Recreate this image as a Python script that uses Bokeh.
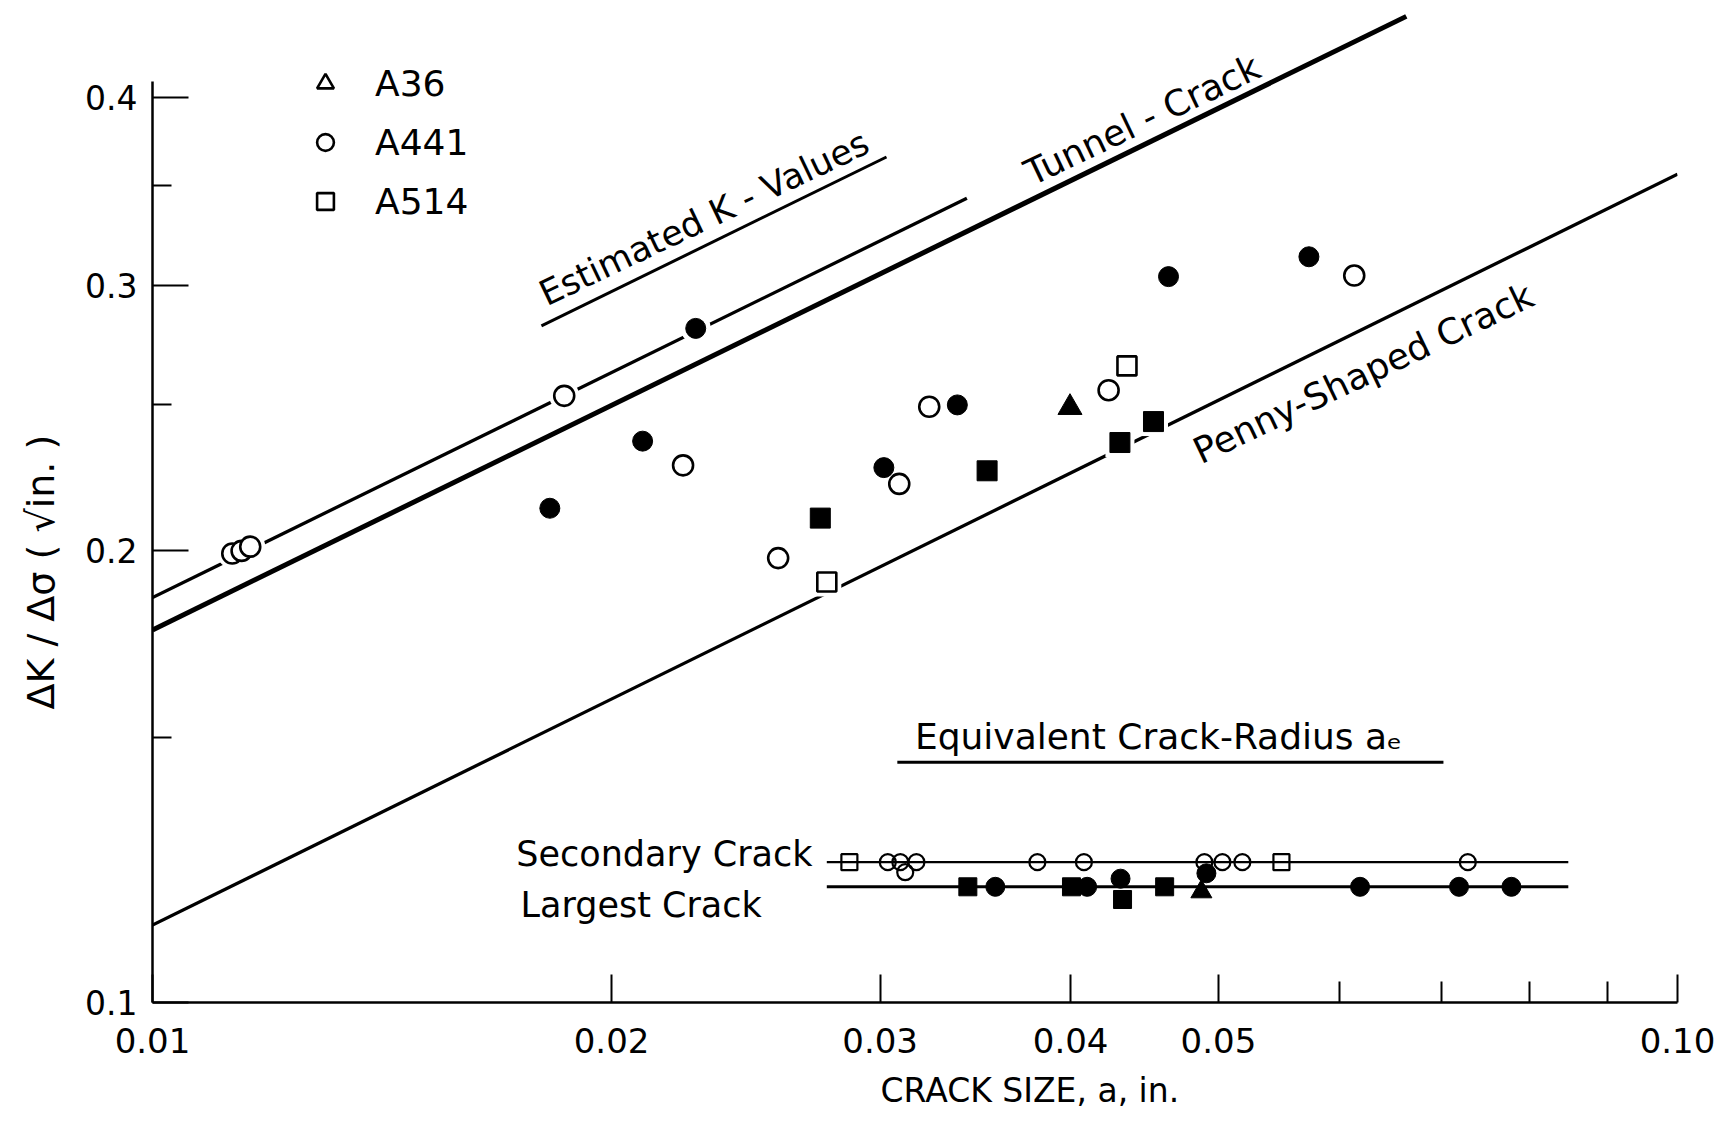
import math
from bokeh.plotting import figure
from bokeh.models import FixedTicker, Label, Legend, LegendItem, PrintfTickFormatter, Title
from bokeh.embed import file_html
from bokeh.resources import INLINE

FONT = "DejaVu Sans"

# ---------------- data ----------------
# reference curves, end points (crack size a in in., dK/dsigma in sqrt(in.))
estk_x = [0.01, 0.0342]
estk_y = [0.186, 0.343]
tunnel_x = [0.01, 0.0664]
tunnel_y = [0.177, 0.4533]
penny_x = [0.01, 0.10]
penny_y = [0.1126, 0.3559]

# measured K-values, open symbols
a441_open_x = [0.01128, 0.01144, 0.01159, 0.01862, 0.02228, 0.02572, 0.03088, 0.03231, 0.04236, 0.06138]
a441_open_y = [0.1990, 0.1998, 0.2011, 0.2534, 0.2278, 0.1976, 0.2214, 0.2492, 0.2556, 0.3047]
a514_open_x = [0.02768, 0.04355]
a514_open_y = [0.1905, 0.2653]

# measured K-values, solid symbols
a441_solid_x = [0.01822, 0.02096, 0.02271, 0.03017, 0.03371, 0.04637, 0.05732]
a441_solid_y = [0.2133, 0.2364, 0.2810, 0.2270, 0.2499, 0.3042, 0.3136]
a514_solid_x = [0.02741, 0.03526, 0.04309, 0.04533]
a514_solid_y = [0.2101, 0.2259, 0.2359, 0.2436]
a36_solid_x = [0.03996]
a36_solid_y = [0.2489]

# equivalent crack-radius strip
strip_x = [0.02768, 0.0848]
secondary_y = 0.1240
largest_y = 0.1194

sec_sq_x = [0.02864, 0.05499]
sec_sq_y = [0.1240, 0.1240]
sec_ci_x = [0.03035, 0.03093, 0.03116, 0.03169, 0.03804, 0.04081, 0.04895, 0.05030, 0.05184, 0.07286]
sec_ci_y = [0.1240, 0.1240, 0.1221, 0.1240, 0.1240, 0.1240, 0.1240, 0.1240, 0.1240, 0.1240]

lar_ci_x = [0.03570, 0.04101, 0.04313, 0.04910, 0.06192, 0.07190, 0.07782]
lar_ci_y = [0.1194, 0.1194, 0.1209, 0.1219, 0.1194, 0.1194, 0.1194]
lar_sq_x = [0.03425, 0.04005, 0.04326, 0.04610]
lar_sq_y = [0.1194, 0.1194, 0.1171, 0.1194]
lar_tr_x = [0.04873]
lar_tr_y = [0.1185]

legend_labels = ["A36", "A441", "A514"]

x_ticks = [0.01, 0.02, 0.03, 0.04, 0.05, 0.10]
x_minor = [0.06, 0.07, 0.08, 0.09]
y_ticks = [0.1, 0.2, 0.3, 0.4]
y_minor = [0.15, 0.25, 0.35]

# ---------------- figure ----------------
p = figure(x_axis_type="log", y_axis_type="log",
           x_range=(0.01, 0.1), y_range=(0.1, 0.456),
           frame_width=1525, frame_height=990,
           min_border_left=151, min_border_right=40,
           min_border_top=12, min_border_bottom=5,
           output_backend="svg", toolbar_location=None)
p.xgrid.visible = False
p.ygrid.visible = False
p.outline_line_color = None
p.background_fill_color = "white"
p.border_fill_color = "white"

xa = p.xaxis[0]
ya = p.yaxis[0]
xa.ticker = FixedTicker(ticks=x_ticks, minor_ticks=x_minor)
ya.ticker = FixedTicker(ticks=y_ticks, minor_ticks=y_minor)
xa.formatter = PrintfTickFormatter(format="%.2f")
ya.formatter = PrintfTickFormatter(format="%.1f")
xa.bounds = (0.01, 0.1)
ya.bounds = (0.1, 0.41)
for ax in (xa, ya):
    ax.axis_line_color = "black"
    ax.axis_line_width = 2.5
    ax.major_tick_line_color = "black"
    ax.minor_tick_line_color = "black"
    ax.major_tick_line_width = 2
    ax.minor_tick_line_width = 2
    ax.major_tick_out = 0
    ax.minor_tick_out = 0
    ax.major_label_text_font = FONT
    ax.major_label_text_color = "black"
xa.major_tick_in = 28
xa.minor_tick_in = 21
xa.major_label_standoff = 25
xa.major_label_text_font_size = "34px"
ya.major_tick_in = 36
ya.minor_tick_in = 19
ya.major_label_standoff = 15
ya.major_label_text_font_size = "33px"

# axis titles
p.add_layout(Title(text="CRACK SIZE, a, in.", align="left", offset=728,
                   vertical_align="bottom", standoff=26, text_font=FONT,
                   text_font_size="33px", text_font_style="normal",
                   text_color="black"), "below")
p.add_layout(Title(text="\u0394K / \u0394\u03c3 ( \u221ain. )", align="left", offset=293,
                   vertical_align="top", standoff=36, text_font=FONT,
                   text_font_size="38px", text_font_style="normal",
                   text_color="black"), "left")

# reference lines
p.line(estk_x, estk_y, line_width=3.3, line_color="black")
p.line(tunnel_x, tunnel_y, line_width=5, line_color="black")
p.line(penny_x, penny_y, line_width=3.3, line_color="black")

# white halos so the lines break around the symbols
p.scatter(a441_open_x + a441_solid_x, a441_open_y + a441_solid_y, marker="circle",
          size=30, fill_color="white", line_color=None)
p.scatter(a514_open_x + a514_solid_x, a514_open_y + a514_solid_y, marker="square",
          size=29, fill_color="white", line_color=None)
p.scatter(a36_solid_x, a36_solid_y, marker="triangle", size=33, fill_color="white", line_color=None)

# symbols
r_a441_open = p.scatter(a441_open_x, a441_open_y, marker="circle", size=20,
                        fill_color="white", line_color="black", line_width=2.6)
p.scatter(a441_solid_x, a441_solid_y, marker="circle", size=20,
          fill_color="black", line_color="black", line_width=1)
r_a514_open = p.scatter(a514_open_x, a514_open_y, marker="square", size=19,
                        fill_color="white", line_color="black", line_width=2.6)
p.scatter(a514_solid_x, a514_solid_y, marker="square", size=20,
          fill_color="black", line_color="black", line_width=1)
p.scatter(a36_solid_x, a36_solid_y, marker="triangle", size=24,
          fill_color="black", line_color="black", line_width=1)
# open-triangle key for the legend (no open A36 point is plotted)
r_a36_key = p.scatter([math.nan], [math.nan], marker="triangle", size=22,
                      fill_color="white", line_color="black", line_width=2.6)

# equivalent crack-radius strip
p.line(strip_x, [secondary_y, secondary_y], line_width=2.2, line_color="black")
p.line(strip_x, [largest_y, largest_y], line_width=3, line_color="black")
p.scatter(sec_sq_x, sec_sq_y, marker="square", size=16, fill_alpha=0,
          line_color="black", line_width=2.2)
p.scatter(sec_ci_x, sec_ci_y, marker="circle", size=16, fill_alpha=0,
          line_color="black", line_width=2.2)
p.scatter(lar_sq_x, lar_sq_y, marker="square", size=18, fill_color="black", line_color="black")
p.scatter(lar_ci_x, lar_ci_y, marker="circle", size=19, fill_color="black", line_color="black")
p.scatter(lar_tr_x, lar_tr_y, marker="triangle", size=21, fill_color="black", line_color="black")

# underlines of the captions
p.line([0.01799, 0.03029], [0.2821, 0.3654], line_width=3, line_color="black")
p.line([0.03079, 0.07023], [0.1445, 0.1445], line_width=3, line_color="black")

# legend
legend = Legend(items=[LegendItem(label=legend_labels[0], renderers=[r_a36_key]),
                       LegendItem(label=legend_labels[1], renderers=[r_a441_open]),
                       LegendItem(label=legend_labels[2], renderers=[r_a514_open])],
                location=(152, 780), padding=0, margin=0, spacing=17,
                glyph_width=42, glyph_height=42, label_height=40, label_standoff=29,
                label_text_font=FONT, label_text_font_size="36px",
                label_text_color="black",
                border_line_color=None, background_fill_alpha=0)
p.add_layout(legend)

ANG = math.radians(25.5)


def caption(text, x, y, size="34px", angle=0.0, align="center"):
    p.add_layout(Label(x=x, y=y, text=text, angle=angle, text_font=FONT,
                       text_font_size=size, text_align=align,
                       text_baseline="middle", text_color="black"))


caption("Estimated K - Values", 0.0230, 0.3327, "35px", ANG)
caption("Tunnel - Crack", 0.04457, 0.3868, "36px", ANG)
caption("Penny-Shaped  Crack", 0.06271, 0.2633, "36px", ANG)
caption("Equivalent Crack-Radius  a\u2091", 0.03162, 0.1503, "36px", align="left")
caption("Secondary Crack", 0.01732, 0.1256, "35px", align="left")
caption("Largest Crack", 0.01743, 0.1162, "35px", align="left")

open("out.html", "w").write(file_html(p, INLINE))
